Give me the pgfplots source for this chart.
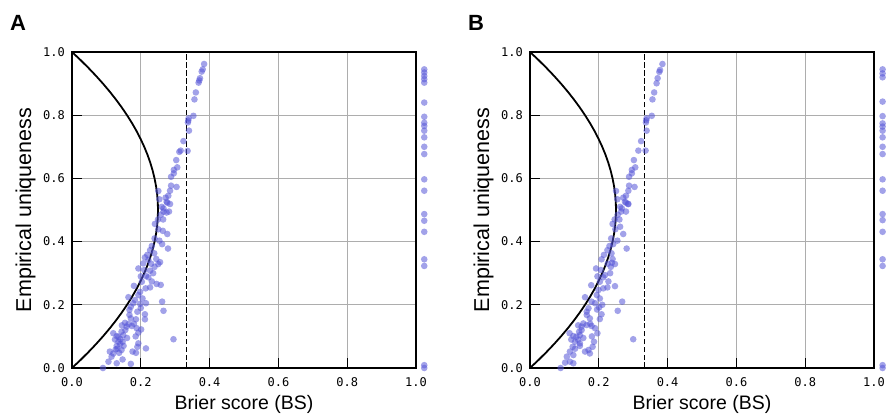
\documentclass[border=0pt]{standalone}
\usepackage{pgfplots}
\pgfplotsset{compat=1.18}
\usepackage{fontspec}
\setmainfont{Liberation Sans}
\newfontfamily\tickfont{DejaVu Sans Mono}
\definecolor{ptc}{RGB}{85,85,215}

\pgfplotstableread{
x y
0.384 0.962
0.380 0.945
0.377 0.938
0.372 0.917
0.370 0.910
0.368 0.903
0.360 0.872
0.356 0.850
0.353 0.798
0.339 0.790
0.337 0.777
0.338 0.783
0.340 0.751
0.324 0.718
0.336 0.687
0.316 0.688
0.312 0.684
0.303 0.658
0.306 0.635
0.296 0.627
0.296 0.616
0.288 0.605
0.288 0.577
0.304 0.573
0.285 0.561
0.272 0.539
0.280 0.545
0.251 0.560
0.254 0.534
0.275 0.526
0.285 0.519
0.266 0.505
0.277 0.523
0.261 0.510
0.266 0.495
0.275 0.492
0.282 0.495
0.241 0.456
0.251 0.439
0.264 0.434
0.277 0.424
0.254 0.403
0.262 0.392
0.279 0.378
0.232 0.386
0.227 0.373
0.239 0.363
0.219 0.358
0.212 0.350
0.222 0.342
0.256 0.335
0.251 0.329
0.207 0.331
0.193 0.315
0.227 0.308
0.236 0.300
0.215 0.291
0.222 0.287
0.203 0.273
0.232 0.274
0.246 0.266
0.258 0.263
0.227 0.255
0.214 0.252
0.198 0.241
0.193 0.231
0.164 0.224
0.205 0.220
0.183 0.215
0.178 0.205
0.198 0.203
0.262 0.210
0.266 0.181
0.171 0.194
0.167 0.184
0.190 0.178
0.212 0.170
0.167 0.168
0.171 0.157
0.186 0.154
0.212 0.154
0.154 0.143
0.164 0.139
0.174 0.133
0.159 0.131
0.188 0.126
0.201 0.122
0.193 0.112
0.144 0.115
0.149 0.104
0.130 0.101
0.135 0.099
0.141 0.091
0.147 0.083
0.135 0.083
0.140 0.076
0.130 0.070
0.193 0.078
0.190 0.067
0.215 0.062
0.295 0.091
0.132 0.061
0.144 0.057
0.127 0.059
0.110 0.052
0.120 0.046
0.176 0.052
0.186 0.048
0.115 0.036
0.106 0.020
0.130 0.015
0.147 0.027
0.171 0.013
0.090 0.000
0.137 0.048
0.155 0.120
0.180 0.140
0.125 0.090
0.150 0.070
0.160 0.095
0.200 0.190
0.215 0.205
0.180 0.260
0.240 0.320
0.245 0.345
0.230 0.330
0.240 0.410
0.250 0.470
0.258 0.485
0.185 0.100
0.120 0.110
0.145 0.135
0.200 0.290
0.210 0.310
0.265 0.470
}\dataA

\pgfplotstableread{
x y
1.024 0.945
1.024 0.935
1.024 0.924
1.024 0.914
1.024 0.903
1.024 0.840
1.024 0.795
1.024 0.776
1.024 0.766
1.024 0.751
1.024 0.730
1.024 0.700
1.024 0.677
1.024 0.597
1.024 0.561
1.024 0.487
1.024 0.466
1.024 0.431
1.024 0.344
1.024 0.323
1.024 0.009
1.024 0.000
}\edgeA

\pgfplotstableread{
x y
0.385 0.962
0.378 0.943
0.376 0.937
0.371 0.917
0.368 0.901
0.361 0.872
0.356 0.850
0.354 0.798
0.339 0.790
0.337 0.777
0.338 0.784
0.339 0.751
0.323 0.718
0.336 0.688
0.315 0.688
0.302 0.658
0.306 0.635
0.296 0.627
0.296 0.616
0.288 0.605
0.288 0.577
0.304 0.573
0.286 0.561
0.250 0.560
0.279 0.545
0.271 0.539
0.254 0.534
0.276 0.526
0.286 0.519
0.267 0.505
0.279 0.523
0.285 0.519
0.262 0.510
0.265 0.495
0.279 0.495
0.240 0.456
0.248 0.439
0.262 0.447
0.271 0.424
0.254 0.403
0.242 0.392
0.281 0.378
0.231 0.386
0.225 0.373
0.237 0.363
0.215 0.358
0.208 0.344
0.247 0.329
0.238 0.333
0.192 0.315
0.233 0.300
0.218 0.294
0.213 0.287
0.203 0.273
0.228 0.274
0.247 0.259
0.225 0.255
0.213 0.252
0.199 0.247
0.194 0.231
0.160 0.224
0.203 0.220
0.179 0.210
0.189 0.205
0.201 0.192
0.268 0.210
0.255 0.181
0.170 0.189
0.165 0.178
0.208 0.170
0.165 0.168
0.174 0.157
0.203 0.155
0.155 0.141
0.165 0.136
0.179 0.133
0.150 0.131
0.189 0.126
0.196 0.110
0.143 0.115
0.145 0.104
0.126 0.101
0.135 0.099
0.140 0.089
0.131 0.083
0.145 0.078
0.124 0.067
0.186 0.083
0.182 0.067
0.170 0.057
0.300 0.091
0.131 0.061
0.116 0.052
0.126 0.041
0.107 0.036
0.102 0.017
0.116 0.020
0.126 0.015
0.089 0.000
0.160 0.052
0.174 0.046
0.150 0.120
0.175 0.140
0.120 0.090
0.145 0.070
0.155 0.095
0.195 0.185
0.210 0.200
0.178 0.262
0.235 0.320
0.240 0.345
0.226 0.330
0.236 0.410
0.246 0.470
0.255 0.485
0.180 0.100
0.115 0.110
0.140 0.135
0.196 0.290
0.206 0.310
0.260 0.470
}\dataB

\pgfplotstableread{
x y
1.025 0.945
1.025 0.932
1.025 0.920
1.025 0.843
1.025 0.797
1.025 0.774
1.025 0.764
1.025 0.751
1.025 0.730
1.025 0.700
1.025 0.677
1.025 0.597
1.025 0.561
1.025 0.487
1.025 0.468
1.025 0.431
1.025 0.344
1.025 0.323
1.025 0.009
1.025 0.000
}\edgeB

\pgfplotstableread{
x y
0.0 0.0
0.024375 0.025
0.0475 0.05
0.069375 0.075
0.09 0.10
0.109375 0.125
0.1275 0.15
0.144375 0.175
0.16 0.20
0.174375 0.225
0.1875 0.25
0.199375 0.275
0.21 0.30
0.219375 0.325
0.2275 0.35
0.234375 0.375
0.24 0.40
0.244375 0.425
0.2475 0.45
0.249375 0.475
0.25 0.50
0.249375 0.525
0.2475 0.55
0.244375 0.575
0.24 0.60
0.234375 0.625
0.2275 0.65
0.219375 0.675
0.21 0.70
0.199375 0.725
0.1875 0.75
0.174375 0.775
0.16 0.80
0.144375 0.825
0.1275 0.85
0.109375 0.875
0.09 0.90
0.069375 0.925
0.0475 0.95
0.024375 0.975
0.0 1.0
}\curve

\pgfplotsset{panel/.style={
  scale only axis, width=344pt, height=316pt,
  xmin=0, xmax=1, ymin=0, ymax=1,
  xtick={0,0.2,0.4,0.6,0.8,1}, xticklabels={0.0,0.2,0.4,0.6,0.8,1.0},
  ytick={0,0.2,0.4,0.6,0.8,1}, yticklabels={0.0,0.2,0.4,0.6,0.8,1.0},
  tick align=inside, xtick pos=bottom, ytick pos=left,
  major tick length=10pt,
  every tick/.style={black, line width=1.2pt},
  grid=major, major grid style={color=black!32, line width=0.9pt},
  axis line style={line width=1.3pt},
  tick label style={font=\fontsize{12}{12}\tickfont},
  xticklabel style={anchor=base, yshift=-19pt, inner sep=0pt},
  yticklabel style={anchor=east, xshift=-7pt, inner sep=0pt},
  clip=false,
  xlabel={Brier score (BS)},
  xlabel style={font=\fontsize{19.5}{20}\selectfont, at={(axis description cs:0.5,-0.130)}, anchor=base},
  ylabel={Empirical uniqueness},
  ylabel style={font=\fontsize{21.5}{22}\selectfont, at={(axis description cs:-0.119,0.5)}, anchor=base},
  scatpts/.style={only marks, mark=*, mark size=3.3pt,
    mark options={fill=ptc, draw opacity=0, fill opacity=0.55}},
}}

\begin{document}
\begin{tikzpicture}
\path[use as bounding box] (0,0) rectangle (886pt,417pt);
\begin{axis}[panel, at={(72pt,49pt)}, anchor=south west]
  \addplot[black, line width=1.8pt] table[x=x,y=y] {\curve};
  \addplot[black, line width=1.2pt, dash pattern=on 5.5pt off 2.4pt] coordinates {(0.3333,0) (0.3333,1)};
  \addplot[scatpts] table[x=x,y=y] {\dataA};
  \addplot[scatpts] table[x=x,y=y] {\edgeA};
\end{axis}
\begin{axis}[panel, at={(530pt,49pt)}, anchor=south west]
  \addplot[black, line width=1.8pt] table[x=x,y=y] {\curve};
  \addplot[black, line width=1.2pt, dash pattern=on 5.5pt off 2.4pt] coordinates {(0.3333,0) (0.3333,1)};
  \addplot[scatpts] table[x=x,y=y] {\dataB};
  \addplot[scatpts] table[x=x,y=y] {\edgeB};
\end{axis}
\node[anchor=base west, inner sep=0pt, font=\fontsize{22}{22}\selectfont\bfseries] at (10pt,386pt) {A};
\node[anchor=base west, inner sep=0pt, font=\fontsize{22}{22}\selectfont\bfseries] at (468pt,386pt) {B};
\end{tikzpicture}
\end{document}
